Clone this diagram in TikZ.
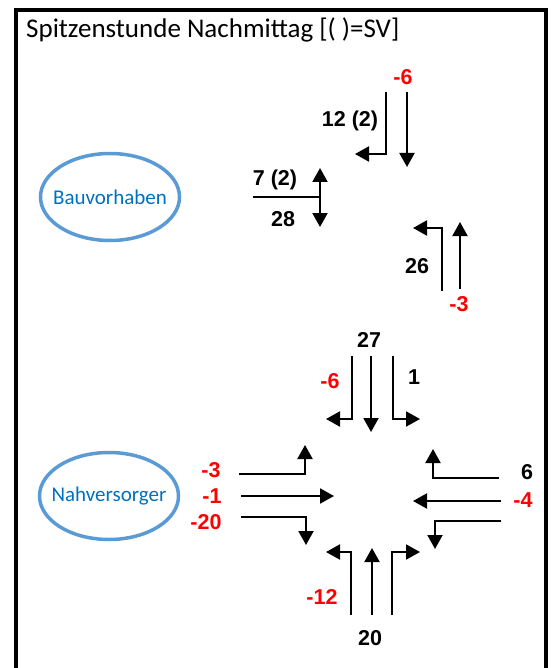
\documentclass[tikz,border=0pt]{standalone}
\usepackage{fontspec}
\setmainfont{Carlito}
\newfontfamily\numfont{Liberation Sans}
\usetikzlibrary{arrows.meta,shapes.geometric}
\definecolor{ringblue}{RGB}{91,155,213}
\definecolor{textblue}{RGB}{0,112,192}
\tikzstyle{zone} = [ellipse,draw=ringblue,line width=3.5pt,minimum width=139pt,minimum height=87pt,
                    label={[text=textblue,font=\fontsize{21}{25}\selectfont]center:#1}]
\tikzstyle{flow} = [line width=2pt,-{Triangle[length=14pt,width=15pt]}]
\tikzstyle{flowboth} = [line width=2pt,{Triangle[length=14pt,width=15pt]}-{Triangle[length=14pt,width=15pt]}]
\tikzstyle{num} = [inner sep=0pt,font=\numfont\bfseries\fontsize{21.5}{25}\selectfont]
\tikzstyle{neg} = [num,text=red]

\begin{document}
\begin{tikzpicture}[x=1pt,y=-1pt]
 \useasboundingbox (0,0) rectangle (550,668);
 \draw [line width=4pt] (16,672) -- (16,10) -- (546,10) -- (546,672);
 \node (TI) [anchor=base west,inner sep=0pt,font=\fontsize{27}{31}\selectfont] at (26,38)
            {Spitzenstunde Nachmittag [( )=SV]};
 \node (BV) [zone=Bauvorhaben] at (110,197) {};
 \node (NV) [zone=Nahversorger] at (109,496) {};
 % access road
 \coordinate (A1) at (386,92);  \coordinate (A1k) at (386,154); \coordinate (A1e) at (355,154);
 \coordinate (A2) at (407,92);  \coordinate (A2e) at (407,167);
 \coordinate (B1) at (253,197); \coordinate (B1k) at (320,197);
 \coordinate (B2) at (320,168); \coordinate (B2e) at (320,227);
 \coordinate (C1) at (442,291); \coordinate (C1k) at (442,228); \coordinate (C1e) at (413,228);
 \coordinate (C2) at (460,289); \coordinate (C2e) at (460,222);
 \draw [flow] (A1) -- (A1k) -- (A1e);
 \draw [flow] (A2) -- (A2e);
 \draw [line width=2pt] (B1) -- (B1k);
 \draw [flowboth] (B2) -- (B2e);
 \draw [flow] (C1) -- (C1k) -- (C1e);
 \draw [flow] (C2) -- (C2e);
 \node (LA2) [neg] at (403,77) {-6};
 \node (LA1) [num] at (350,121) {12 (2)};
 \node (LB1) [num] at (275,180) {7 (2)};
 \node (LB2) [num] at (283,219) {28};
 \node (LC1) [num] at (417,266) {26};
 \node (LC2) [neg] at (459,304) {-3};
 % crossing
 \coordinate (N1) at (352,356); \coordinate (N1k) at (352,419); \coordinate (N1e) at (326,419);
 \coordinate (N2) at (371,356); \coordinate (N2e) at (371,432);
 \coordinate (N3) at (393,356); \coordinate (N3k) at (393,419); \coordinate (N3e) at (420,419);
 \coordinate (W1) at (239,474); \coordinate (W1k) at (305,474); \coordinate (W1e) at (305,445);
 \coordinate (W2) at (241,496); \coordinate (W2e) at (334,496);
 \coordinate (W3) at (241,517); \coordinate (W3k) at (306,517); \coordinate (W3e) at (306,545);
 \coordinate (E1) at (499,478); \coordinate (E1k) at (433,478); \coordinate (E1e) at (433,449);
 \coordinate (E2) at (501,501); \coordinate (E2e) at (413,501);
 \coordinate (E3) at (501,521); \coordinate (E3k) at (435,521); \coordinate (E3e) at (435,549);
 \coordinate (S1) at (351,615); \coordinate (S1k) at (351,552); \coordinate (S1e) at (326,552);
 \coordinate (S2) at (372,615); \coordinate (S2e) at (372,548);
 \coordinate (S3) at (392,615); \coordinate (S3k) at (392,552); \coordinate (S3e) at (420,552);
 \draw [flow] (N1) -- (N1k) -- (N1e);
 \draw [flow] (N2) -- (N2e);
 \draw [flow] (N3) -- (N3k) -- (N3e);
 \draw [flow] (W1) -- (W1k) -- (W1e);
 \draw [flow] (W2) -- (W2e);
 \draw [flow] (W3) -- (W3k) -- (W3e);
 \draw [flow] (E1) -- (E1k) -- (E1e);
 \draw [flow] (E2) -- (E2e);
 \draw [flow] (E3) -- (E3k) -- (E3e);
 \draw [flow] (S1) -- (S1k) -- (S1e);
 \draw [flow] (S2) -- (S2e);
 \draw [flow] (S3) -- (S3k) -- (S3e);
 \node (LN2) [num] at (369,340) {27};
 \node (LN1) [neg] at (330,381) {-6};
 \node (LN3) [num] at (414,377) {1};
 \node (LW1) [neg] at (211,470) {-3};
 \node (LW2) [neg] at (212,496) {-1};
 \node (LW3) [neg] at (206,522) {-20};
 \node (LE1) [num] at (527,472) {6};
 \node (LE2) [neg] at (523,500) {-4};
 \node (LS1) [neg] at (322,597) {-12};
 \node (LS2) [num] at (370,638) {20};
\end{tikzpicture}
\end{document}
